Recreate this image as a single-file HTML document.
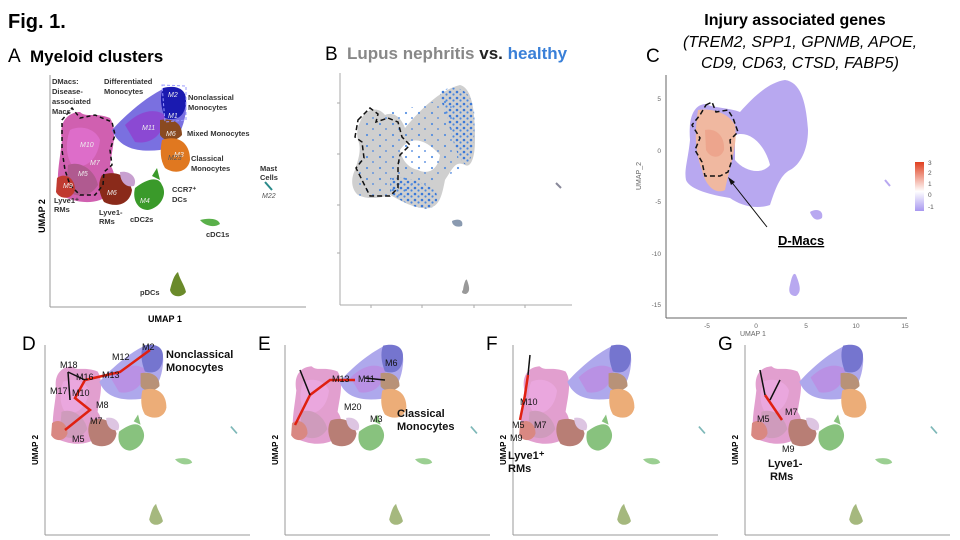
<!DOCTYPE html>
<html><head><meta charset="utf-8"><style>
body{margin:0;background:#fff;}
svg{display:block;font-family:"Liberation Sans",sans-serif;}
.b{font-weight:bold;}
</style></head><body>
<svg width="960" height="540" viewBox="0 0 960 540">
<defs>
<pattern id="dots" width="7" height="6" patternUnits="userSpaceOnUse">
<circle cx="2" cy="2" r="1.3" fill="#3a78d8"/><circle cx="5.5" cy="4.5" r="1.1" fill="#4a88e0"/>
</pattern>
<pattern id="dots2" width="13" height="11" patternUnits="userSpaceOnUse">
<circle cx="3" cy="3" r="1.1" fill="#4a88e0"/><circle cx="9" cy="8" r="1" fill="#5a90e0"/>
</pattern>
<linearGradient id="gr" x1="0" y1="0" x2="0" y2="1"><stop offset="0" stop-color="#e04020"/><stop offset=".6" stop-color="#fff"/><stop offset="1" stop-color="#a898f0"/></linearGradient>
<g id="map">
  <path d="M62,140 C58,120 70,112 80,112 C86,118 95,112 110,118 C118,130 112,150 110,165 C118,175 115,195 100,200 C85,205 70,200 60,195 C55,180 60,160 62,140Z" fill="#d060b0"/>
  <path d="M70,130 C80,125 95,128 100,140 C98,160 85,170 72,165 C65,155 66,140 70,130Z" fill="#e070d0" opacity=".8"/>
  <path d="M68,165 C80,160 95,170 98,185 C90,198 75,198 66,190Z" fill="#b05a90"/>
  <path d="M57,178 C65,172 75,178 75,190 C72,200 60,200 56,192Z" fill="#c03a30"/>
  <path d="M102,175 C115,170 128,175 132,190 C130,205 115,208 104,202 C98,192 98,182 102,175Z" fill="#8a2a1a"/>
  <path d="M120,172 C130,170 138,178 134,186 C126,188 120,182 120,172Z" fill="#c8a0d0"/>
  <path d="M112,130 C130,110 150,95 165,88 C180,85 188,90 186,110 C184,130 175,145 160,150 C140,152 120,150 112,130Z" fill="#7a70e0"/>
  <path d="M125,125 C140,110 155,108 165,115 C165,135 150,145 135,142Z" fill="#9040d0" opacity=".8"/>
  <path d="M163,88 C175,85 186,88 186,100 C186,115 178,122 165,118 C160,105 160,95 163,88Z" fill="#1a1ab0"/>
  <path d="M160,120 C172,118 182,122 182,135 C176,142 164,142 160,135Z" fill="#8a4a20"/>
  <path d="M162,140 C175,135 190,140 190,160 C188,172 175,175 165,168 C160,160 160,150 162,140Z" fill="#e07820"/>
  <path d="M135,188 C145,180 158,175 162,185 C168,195 160,208 148,210 C138,210 132,200 135,188Z" fill="#3a9a2a"/>
  <path d="M152,176 L157,168 L160,180Z" fill="#3a9a2a"/>
  <path d="M200,220 C208,218 218,218 220,224 C214,228 205,226 200,220Z" fill="#5ab04a"/>
  <path d="M170,290 C172,282 174,275 178,272 C180,280 184,284 186,292 C182,298 172,298 170,290Z" fill="#6a8a2a"/>
  <path d="M265,182 L272,190" stroke="#2a8a8a" stroke-width="2"/>
</g>
</defs>

<text x="8" y="28" font-size="20" class="b">Fig. 1.</text>
<text x="8" y="62" font-size="19">A</text>
<text x="30" y="62" font-size="17" class="b">Myeloid clusters</text>
<text x="325" y="60" font-size="19">B</text>
<text x="347" y="59" font-size="17" class="b" fill="#888">Lupus nephritis <tspan fill="#222">vs.</tspan> <tspan fill="#3a80d8">healthy</tspan></text>
<text x="646" y="62" font-size="19">C</text>
<text x="795" y="25" font-size="16" class="b" text-anchor="middle">Injury associated genes</text>
<text x="800" y="47" font-size="16" font-style="italic" text-anchor="middle">(TREM2, SPP1, GPNMB, APOE,</text>
<text x="800" y="68" font-size="16" font-style="italic" text-anchor="middle">CD9, CD63, CTSD, FABP5)</text>

<!-- Panel A -->
<line x1="50" y1="75" x2="50" y2="307" stroke="#999"/>
<line x1="50" y1="307" x2="306" y2="307" stroke="#999"/>
<use href="#map"/>
<path d="M62,120 L72,108 L80,118 L95,115 L112,122 L115,135 L110,150 L112,165 L104,172 L103,185 L95,195 L80,195 L70,185 L65,170 L62,150Z" fill="none" stroke="#111" stroke-width="1.5" stroke-dasharray="4,3"/>
<path d="M162,85 L186,86 L186,120 L165,122Z" fill="none" stroke="#99f" stroke-dasharray="3,2"/>
<g font-size="7.5" class="b" fill="#333">
<text x="52" y="84">DMacs:</text><text x="52" y="94">Disease-</text><text x="52" y="104">associated</text><text x="52" y="114">Macs</text>
<text x="104" y="84">Differentiated</text><text x="104" y="94">Monocytes</text>
<text x="188" y="100">Nonclassical</text><text x="188" y="110">Monocytes</text>
<text x="187" y="136">Mixed Monocytes</text>
<text x="191" y="161">Classical</text><text x="191" y="171">Monocytes</text>
<text x="260" y="171">Mast</text><text x="260" y="180">Cells</text>
<text x="172" y="192">CCR7⁺</text><text x="172" y="202">DCs</text>
<text x="54" y="203">Lyve1⁺</text><text x="54" y="212">RMs</text>
<text x="99" y="215">Lyve1-</text><text x="99" y="224">RMs</text>
<text x="130" y="222">cDC2s</text>
<text x="206" y="237">cDC1s</text>
<text x="140" y="295">pDCs</text>
</g>
<g font-size="7" font-style="italic" fill="#eee">
<text x="168" y="97">M2</text><text x="168" y="118">M1</text><text x="166" y="136">M6</text><text x="174" y="157">M3</text>
<text x="142" y="130">M11</text><text x="80" y="147">M10</text><text x="90" y="165">M7</text><text x="78" y="176">M5</text><text x="63" y="188">M9</text><text x="107" y="195">M6</text><text x="140" y="203">M4</text>
</g>
<text x="168" y="160" font-size="7" font-style="italic" fill="#555">M23</text>
<text x="262" y="198" font-size="7" font-style="italic" fill="#555">M22</text>
<text x="45" y="210" font-size="9" class="b" transform="rotate(-90 45 210)" text-anchor="middle" dx="-6">UMAP 2</text>
<text x="148" y="322" font-size="9" class="b">UMAP 1</text>

<!-- Panel B -->
<line x1="340" y1="73" x2="340" y2="305" stroke="#aaa"/>
<line x1="340" y1="305" x2="572" y2="305" stroke="#aaa"/>
<g stroke="#aaa"><line x1="371" y1="305" x2="371" y2="308"/><line x1="422" y1="305" x2="422" y2="308"/><line x1="474" y1="305" x2="474" y2="308"/><line x1="525" y1="305" x2="525" y2="308"/>
<line x1="337" y1="103" x2="340" y2="103"/><line x1="337" y1="154" x2="340" y2="154"/><line x1="337" y1="205" x2="340" y2="205"/><line x1="337" y1="253" x2="340" y2="253"/></g>
<path d="M360,122 C365,108 378,106 385,115 C392,112 400,115 405,128 C420,110 440,90 460,85 C472,88 475,110 475,140 C475,160 470,168 465,165 C455,160 452,170 445,180 C442,195 440,205 430,208 C415,210 400,200 390,195 C380,198 368,200 358,195 C352,190 350,180 355,170 C358,160 362,150 358,140 C356,132 358,126 360,122Z" fill="#cfcfcf"/>
<path d="M400,150 C410,135 425,138 440,155 C438,170 428,175 418,170 C408,168 402,160 400,150Z" fill="#fff"/>
<path d="M440,92 C452,84 470,86 474,110 C476,140 472,162 466,165 C458,160 452,140 448,120 C444,108 440,100 440,92Z" fill="url(#dots)"/>
<path d="M390,178 C402,175 418,180 435,190 C440,200 436,208 428,209 C412,208 398,200 390,192Z" fill="url(#dots)"/>
<path d="M365,120 C380,110 420,110 450,95 L460,170 L390,200 L355,195Z" fill="url(#dots2)" opacity=".9"/>
<path d="M358,120 L370,108 L378,114 L376,122 L388,118 L398,122 L402,137 L410,145 L400,155 L398,165 L398,188 L390,196 L370,196 L362,180 L356,168 L364,158 L362,142 L355,137Z" fill="none" stroke="#111" stroke-width="1.5" stroke-dasharray="5,3"/>
<path d="M452,221 C458,218 464,220 462,226 C456,228 452,225 452,221Z" fill="#8a9ab0"/>
<path d="M463,290 C464,283 466,278 467,280 C470,288 470,292 466,294 C462,294 461,292 463,290Z" fill="#999"/>
<path d="M556,183 L561,188" stroke="#889" stroke-width="2"/>

<!-- Panel C -->
<line x1="666" y1="75" x2="666" y2="318" stroke="#666"/>
<line x1="666" y1="318" x2="907" y2="318" stroke="#666"/>
<g font-size="6.5" fill="#666" text-anchor="end">
<text x="661" y="101">5</text><text x="661" y="153">0</text><text x="661" y="204">-5</text><text x="661" y="256">-10</text><text x="661" y="307">-15</text>
</g>
<g font-size="6.5" fill="#666" text-anchor="middle">
<text x="707" y="328">-5</text><text x="756" y="328">0</text><text x="806" y="328">5</text><text x="856" y="328">10</text><text x="905" y="328">15</text>
</g>
<text x="641" y="190" font-size="7" fill="#666" transform="rotate(-90 641 190)">UMAP_2</text>
<text x="740" y="336" font-size="7" fill="#666">UMAP  1</text>
<path d="M690,140 C688,115 695,105 705,104 C715,108 730,108 740,112 C755,95 770,82 785,80 C800,82 806,100 808,130 C808,150 800,165 790,170 C780,175 775,190 770,205 C755,210 740,205 730,198 C712,195 690,190 686,180 C684,170 688,160 690,140Z" fill="#b8a8f0"/>
<path d="M735,135 C750,130 765,145 770,165 C762,175 745,172 735,160Z" fill="#fff"/>
<path d="M698,110 C710,108 728,112 735,125 C738,145 730,165 725,190 C715,195 705,185 702,170 C694,150 695,130 698,110Z" fill="#f0b8a0"/>
<path d="M705,130 C715,128 725,135 724,150 C720,160 710,158 706,150Z" fill="#eca088" opacity=".8"/>
<path d="M706,105 L712,102 L716,112 L728,110 L733,118 L738,132 L730,140 L732,160 L728,172 L720,176 L705,176 L702,162 L695,150 L700,138 L692,125 L700,115Z" fill="none" stroke="#111" stroke-width="1.5" stroke-dasharray="5,3"/>
<path d="M810,212 C816,208 824,210 822,218 C816,222 812,218 810,212Z" fill="#b8a8f0"/>
<path d="M790,285 C792,275 794,272 796,275 C800,285 802,292 796,296 C790,296 788,292 790,285Z" fill="#b8a8f0"/>
<path d="M885,180 L890,186" stroke="#b8a8f0" stroke-width="2"/>
<line x1="767" y1="227" x2="730" y2="180" stroke="#111"/>
<path d="M728,177 L735,182 L731,185Z" fill="#111"/>
<text x="778" y="245" font-size="13" class="b" text-decoration="underline">D-Macs</text>
<rect x="915" y="162" width="9" height="49" fill="url(#gr)"/>
<g font-size="6.5" fill="#555"><text x="928" y="165">3</text><text x="928" y="175">2</text><text x="928" y="186">1</text><text x="928" y="197">0</text><text x="928" y="209">-1</text></g>

<!-- Bottom panels -->
<text x="22" y="350" font-size="19">D</text>
<text x="258" y="350" font-size="19">E</text>
<text x="486" y="350" font-size="19">F</text>
<text x="718" y="350" font-size="19">G</text>
<g id="axes">
<line x1="45" y1="345" x2="45" y2="535" stroke="#999"/>
<line x1="45" y1="535" x2="250" y2="535" stroke="#999"/>
<text x="38" y="450" font-size="8" class="b" transform="rotate(-90 38 450)" text-anchor="middle">UMAP 2</text>
</g>
<use href="#axes" x="240"/><use href="#axes" x="468"/><use href="#axes" x="700"/>
<g opacity=".6">
<use href="#map" transform="translate(3,270) scale(0.86)"/>
<use href="#map" transform="translate(243,270) scale(0.86)"/>
<use href="#map" transform="translate(471,270) scale(0.86)"/>
<use href="#map" transform="translate(703,270) scale(0.86)"/>
</g>
<g stroke="#e02010" stroke-width="2.5" fill="none">
<path d="M150,350 L120,372 L85,380 L75,398 L90,410 L65,430"/>
<path d="M355,380 L330,380 L310,395 L295,425"/>
<path d="M520,420 L525,395 L528,375"/>
<path d="M782,420 L765,395"/>
</g>
<g stroke="#111" stroke-width="1.5" fill="none">
<path d="M85,380 L68,372"/><path d="M70,400 L68,372"/>
<path d="M385,380 L365,378 M310,395 L300,370"/>
<path d="M528,375 L530,355"/>
<path d="M765,395 L760,370 M770,400 L780,380"/>
</g>
<g font-size="9" fill="#111">
<text x="142" y="350">M2</text><text x="112" y="360">M12</text><text x="60" y="368">M18</text><text x="76" y="380">M16</text><text x="102" y="378">M13</text>
<text x="50" y="394">M17</text><text x="72" y="396">M10</text><text x="96" y="408">M8</text><text x="90" y="424">M7</text><text x="72" y="442">M5</text>
<text x="332" y="382">M13</text><text x="358" y="382">M11</text><text x="385" y="366">M6</text><text x="344" y="410">M20</text><text x="370" y="422">M3</text>
<text x="520" y="405">M10</text><text x="512" y="428">M5</text><text x="534" y="428">M7</text><text x="510" y="441">M9</text>
<text x="757" y="422">M5</text><text x="785" y="415">M7</text><text x="782" y="452">M9</text>
</g>
<g font-size="11" class="b" fill="#111">
<text x="166" y="358">Nonclassical</text><text x="166" y="371">Monocytes</text>
<text x="397" y="417">Classical</text><text x="397" y="430">Monocytes</text>
<text x="508" y="459">Lyve1⁺</text><text x="508" y="472">RMs</text>
<text x="768" y="467">Lyve1-</text><text x="770" y="480">RMs</text>
</g>
</svg>
</body></html>
